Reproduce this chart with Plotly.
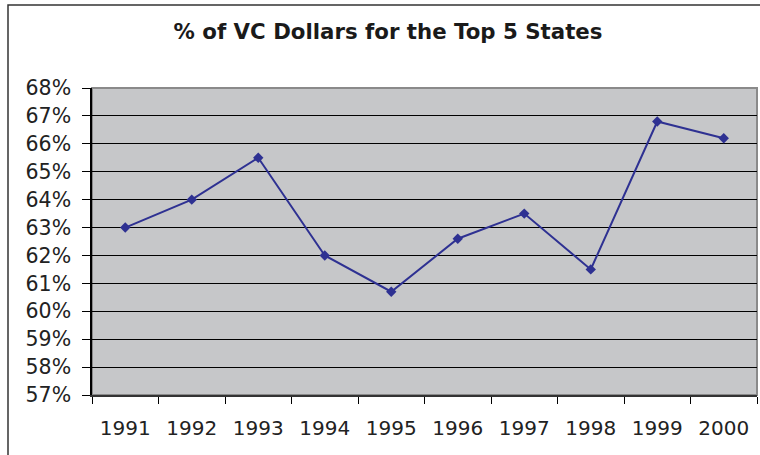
import plotly.graph_objects as go

years = ["1991", "1992", "1993", "1994", "1995", "1996", "1997", "1998", "1999", "2000"]
share = [0.630, 0.640, 0.655, 0.620, 0.607, 0.626, 0.635, 0.615, 0.668, 0.662]
y_ticks = [0.57, 0.58, 0.59, 0.60, 0.61, 0.62, 0.63, 0.64, 0.65, 0.66, 0.67, 0.68]
title_text = "% of VC Dollars for the Top 5 States"

FONT = "Verdana, DejaVu Sans, sans-serif"

fig = go.Figure()
fig.add_trace(go.Scatter(
    x=years, y=share, mode="lines+markers",
    line=dict(color="#2E3192", width=2),
    marker=dict(symbol="diamond", size=8, color="#2E3192"),
    showlegend=False,
))

L, R, T, B = 92, 3, 88, 60
W, H = 760, 455
pw, ph = W - L - R, H - T - B

def px(x):
    return (x - L) / pw

def py(y):
    return 1 - (y - T) / ph

fig.update_layout(
    width=W, height=H,
    margin=dict(l=L, r=R, t=T, b=B),
    paper_bgcolor="white",
    plot_bgcolor="#C6C7C9",
    title=dict(text="<b>" + title_text + "</b>", x=388 / W, xanchor="center",
               y=1 - 32 / H, yanchor="middle", yref="container",
               font=dict(family=FONT, size=21.3, color="#1a1a1a")),
    font=dict(family=FONT, color="#222222"),
    xaxis=dict(
        type="category", range=[-0.5, 9.5], tickson="boundaries",
        ticks="outside", ticklen=7, tickcolor="black", tickwidth=1,
        showgrid=False, showline=True, linecolor="#333333", linewidth=1.5,
        tickfont=dict(size=20, family=FONT, color="#222222"),
        ticklabelstandoff=14,
        fixedrange=True,
    ),
    yaxis=dict(
        range=[0.57, 0.68], tickvals=y_ticks, tickformat=".0%",
        ticks="outside", ticklen=8, tickcolor="black", tickwidth=1,
        showgrid=True, gridcolor="black", gridwidth=1,
        showline=True, linecolor="black", linewidth=1.5,
        tickfont=dict(size=20.5, family=FONT, color="#222222"),
        ticklabelstandoff=7,
        zeroline=False, fixedrange=True,
    ),
    shapes=[
        dict(type="rect", xref="paper", yref="paper", x0=0, x1=1, y0=0, y1=1,
             line=dict(color="#8a8a8a", width=2), layer="below"),
        dict(type="rect", xref="paper", yref="paper",
             x0=px(8), x1=px(765), y0=py(470), y1=py(5),
             line=dict(color="#333333", width=1.5), fillcolor="rgba(0,0,0,0)"),
    ],
)

fig.write_html("out.html", config={"displayModeBar": False},
               post_script="document.body.style.margin='0';")
